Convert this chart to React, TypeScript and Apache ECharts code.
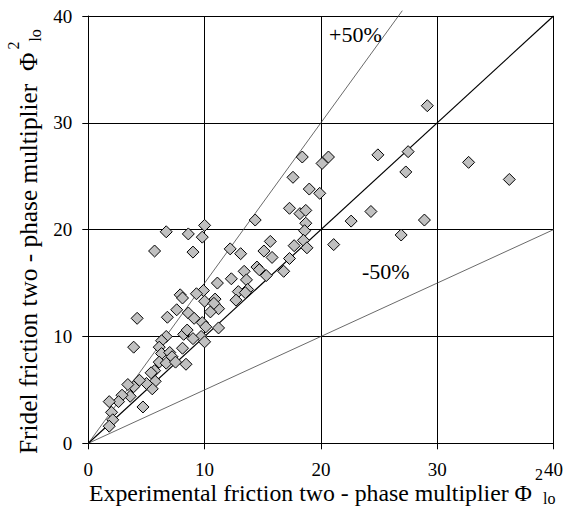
import React, { useEffect, useRef } from "react";
import * as echarts from "echarts";

// Experimental friction two-phase multiplier (x) vs Fridel prediction (y)
const experimentalPhi = [
  10.0, 6.7, 8.6, 9.8, 5.7, 9.0, 4.2, 3.9, 4.7, 8.4,
  11.1, 9.9, 9.3, 7.9, 8.1, 10.0, 10.9, 11.2, 7.6, 6.8,
  8.6, 9.1, 9.8, 10.1, 11.2, 6.7, 6.3, 6.1, 8.2, 8.5,
  9.7, 10.0, 9.0, 6.3, 7.0, 7.2, 8.1, 6.1, 6.7, 7.5,
  5.7, 5.4, 5.75, 5.5, 5.0, 4.4, 3.9, 3.4, 3.6, 2.9,
  2.6, 1.8, 2.0, 2.1, 1.8, 10.5, 10.8,
  18.4, 20.1, 20.65, 17.6, 19.0, 19.9, 17.3, 18.2, 18.7, 18.7,
  18.6, 18.5, 17.7, 18.8, 21.1, 22.6, 17.3, 16.8, 14.35, 15.65,
  15.1, 15.8, 12.2, 13.1, 14.5, 14.7, 15.3, 13.4, 12.3, 13.6,
  13.7, 12.9, 13.5, 12.7,
  29.15, 24.9, 27.5, 27.3, 32.7, 36.2, 24.3, 28.9, 26.9,
];
const fridelPhi = [
  20.4, 19.8, 19.6, 19.3, 18.0, 17.9, 11.7, 9.0, 3.4, 7.4,
  15.0, 14.3, 14.0, 13.9, 13.6, 13.3, 13.5, 12.6, 12.5, 11.8,
  12.2, 11.7, 11.3, 10.9, 10.8, 10.0, 9.6, 9.0, 10.2, 10.6,
  10.0, 9.5, 9.8, 8.4, 8.5, 8.1, 8.9, 7.6, 7.5, 7.6,
  6.8, 6.6, 5.8, 5.1, 5.6, 5.9, 5.3, 5.5, 4.4, 4.5,
  3.9, 3.9, 2.9, 2.2, 1.6, 12.3, 13.1,
  26.8, 26.2, 26.8, 24.9, 23.8, 23.4, 22.0, 21.5, 21.8, 20.6,
  19.9, 19.0, 18.5, 18.3, 18.6, 20.8, 17.3, 16.1, 20.9, 18.9,
  18.0, 17.4, 18.2, 17.75, 16.5, 16.25, 15.7, 16.1, 15.4, 15.3,
  14.4, 14.2, 14.1, 13.4,
  31.6, 27.0, 27.3, 25.4, 26.3, 24.7, 21.7, 20.9, 19.5,
];

// Reference lines
const equalityX = [0, 40];
const equalityY = [0, 40];
const plus50X = [0, 27];
const plus50Y = [0, 40.5];
const minus50X = [0, 40];
const minus50Y = [0, 20];

const axisMin = 0;
const axisMax = 40;
const axisStep = 10;

const xTitle = "Experimental friction two - phase multiplier Φ";
const yTitle = "Fridel friction two - phase multiplier  Φ";
const supText = "2";
const subText = "lo";
const plusLabel = "+50%";
const minusLabel = "-50%";

const FAMILY = "Liberation Serif";

function measure(text: string, size: number): number {
  const c = document.createElement("canvas").getContext("2d");
  if (!c) return text.length * size * 0.45;
  c.font = `${size}px "Liberation Serif"`;
  return c.measureText(text).width;
}

function textStyle(text: string, size: number, lineHeight?: number) {
  return {
    text,
    fontSize: size,
    fontFamily: FAMILY,
    lineHeight: lineHeight ?? size,
    fill: "#000",
    textAlign: "left",
    textVerticalAlign: "middle",
  };
}

function titleParts(main: string, mainSize: number, supDy: number, subDy: number) {
  const supSize = 16;
  const subSize = 16;
  const w = measure(main, mainSize);
  const supW = measure(supText, supSize);
  return [
    { type: "text", x: 0, y: 0, style: textStyle(main, mainSize, 20) },
    { type: "text", x: w + 3, y: supDy, style: textStyle(supText, supSize, 13) },
    { type: "text", x: w + 3 + supW, y: subDy, style: textStyle(subText, subSize, 13) },
  ];
}

export default function App() {
  const ref = useRef<HTMLDivElement>(null);

  useEffect(() => {
    document.body.style.margin = "0";
    if (!ref.current) return;
    const chart = echarts.init(ref.current, undefined, { renderer: "svg" });

    const points = experimentalPhi.map((x, i) => [x, fridelPhi[i]]);
    const pairs = (xs: number[], ys: number[]) => xs.map((x, i) => [x, ys[i]]);

    const axisCommon = {
      type: "value",
      min: axisMin,
      max: axisMax,
      interval: axisStep,
      axisLine: { show: true, onZero: false, lineStyle: { color: "#000", width: 1 } },
      axisTick: { show: true, length: 6, lineStyle: { color: "#000", width: 1 } },
      splitLine: { show: true, lineStyle: { color: "#000", width: 1 } },
    };

    chart.setOption({
      animation: false,
      backgroundColor: "#fff",
      textStyle: { fontFamily: FAMILY },
      grid: { left: 88.3, right: 6.7, top: 16, bottom: 62.7 },
      xAxis: {
        ...axisCommon,
        axisLabel: { color: "#000", fontFamily: FAMILY, fontSize: 19, lineHeight: 16, margin: 18 },
      },
      yAxis: {
        ...axisCommon,
        axisLabel: { color: "#000", fontFamily: FAMILY, fontSize: 19, margin: 16 },
      },
      series: [
        {
          type: "line",
          data: pairs(minus50X, minus50Y),
          symbol: "none",
          clip: false,
          silent: true,
          lineStyle: { color: "#444", width: 0.8 },
        },
        {
          type: "line",
          data: pairs(plus50X, plus50Y),
          symbol: "none",
          clip: false,
          silent: true,
          lineStyle: { color: "#444", width: 0.8 },
        },
        {
          type: "line",
          data: pairs(equalityX, equalityY),
          symbol: "none",
          clip: false,
          silent: true,
          lineStyle: { color: "#000", width: 1.2 },
        },
        {
          type: "scatter",
          data: points,
          symbol: "diamond",
          symbolSize: 12,
          itemStyle: { color: "#c0c0c0", borderColor: "#000", borderWidth: 1, opacity: 1 },
          z: 5,
        },
      ],
      graphic: [
        { type: "text", x: 329, y: 34, z: 10, style: textStyle(plusLabel, 22) },
        { type: "text", x: 362, y: 271, z: 10, style: textStyle(minusLabel, 22) },
        {
          type: "group",
          x: 89,
          y: 493,
          children: titleParts(xTitle, 23.8, -19, 5),
        },
        {
          type: "group",
          x: 28,
          y: 454,
          rotation: Math.PI / 2,
          children: titleParts(yTitle, 25.3, -15, 7),
        },
      ],
    });

    return () => chart.dispose();
  }, []);

  return (
    <div
      ref={ref}
      style={{ position: "fixed", left: 0, top: 0, width: 566, height: 506, background: "#fff" }}
    />
  );
}
